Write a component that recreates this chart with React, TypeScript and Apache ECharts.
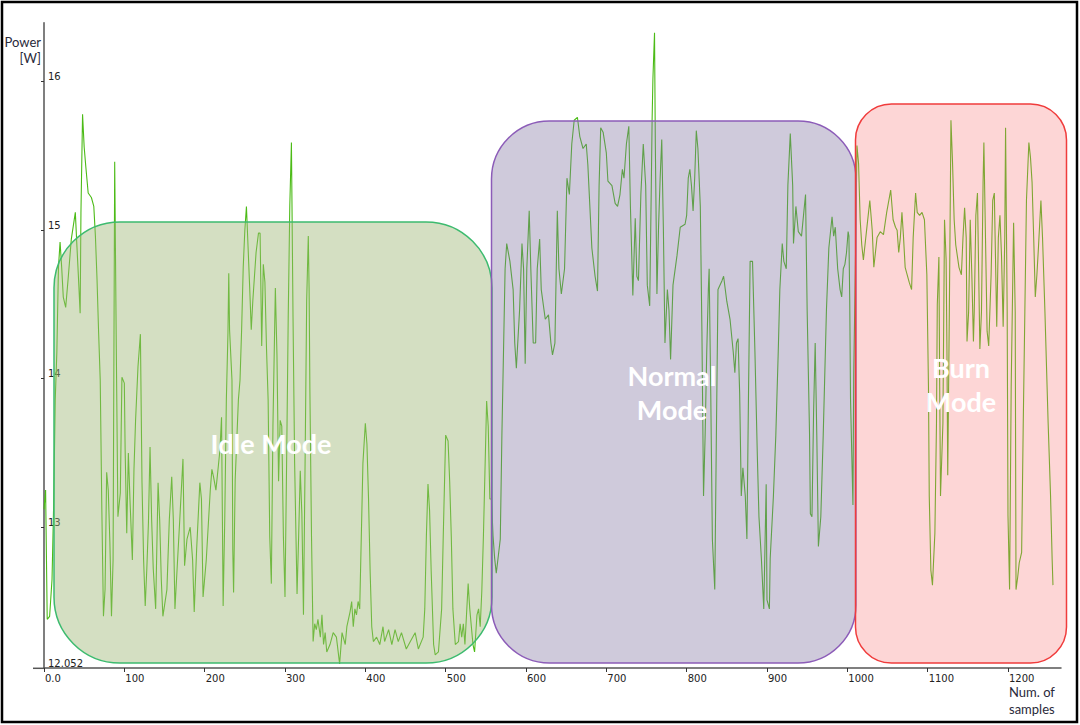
import React, { useEffect, useRef } from "react";
import * as echarts from "echarts";

// [sample index, power in W]
const idleSamples: [number, number][] = [
  [0,13.12],[2,13.25],[4,12.38],[7,12.40],[10,12.65],[12,13.15],[14,13.86],[16,14.18],[18,14.75],[20,14.92],
  [22,14.75],[24,14.55],[27,14.48],[30,14.67],[34,14.94],[39,15.12],[41,14.89],[43,14.67],[45,14.44],[46,15.12],
  [48,15.78],[50,15.56],[52,15.43],[55,15.25],[59,15.22],[62,15.16],[64,14.96],[66,14.67],[68,14.31],[70,13.99],
  [72,13.12],[74,12.40],[76,12.58],[78,13.37],[80,13.25],[82,12.90],[84,12.40],[86,12.78],[88,15.46],[90,14.20],
  [92,13.07],[95,13.23],[97,14.01],[100,13.97],[101,13.52],[103,12.96],[105,13.50],[107,13.19],[110,12.78],[112,13.39],
  [114,13.72],[117,14.08],[120,14.30],[122,13.30],[124,12.78],[126,12.47],[128,12.72],[130,13.03],[132,13.54],[134,13.05],
  [136,12.72],[139,12.45],[142,13.30],[144,13.05],[146,12.65],[148,12.40],[153,12.58],[156,13.05],[159,13.34],[161,13.05],
  [163,12.45],[165,12.65],[169,13.05],[173,13.46],[175,12.74],[178,12.92],[182,13.00],[185,12.78],[187,12.43],[190,12.85],
  [194,13.30],[196,13.19],[198,12.53],[202,12.78],[207,13.25],[209,13.39],[211,13.34],[214,13.25],[217,13.41],[219,13.52],
  [221,13.74],[223,12.47],[225,13.05],[227,13.86],[229,14.31],[230,14.71],[231,14.33],[234,13.99],[235,12.85],[236,12.56],
  [238,13.32],[242,13.86],[244,13.99],[246,14.33],[248,14.75],[250,15.00],[252,15.16],[254,14.89],[256,14.62],[258,14.33],
  [260,14.53],[264,14.85],[267,14.98],[269,14.98],[271,14.22],[273,14.77],[275,14.65],[277,14.20],[279,13.86],[281,12.94],
  [283,12.62],[285,13.68],[288,14.61],[290,14.16],[292,13.31],[294,13.72],[296,13.68],[298,12.94],[300,12.53],[302,13.43],
  [304,14.41],[306,15.17],[308,15.59],[310,14.41],[312,13.43],[315,12.55],[317,12.94],[319,13.38],[321,13.09],[323,12.41],
  [325,13.43],[327,14.53],[329,14.96],[330,14.61],[331,13.92],[333,12.94],[335,12.23],[337,12.35],[339,12.31],[341,12.38],
  [344,12.26],[346,12.41],[348,12.21],[350,12.29],[352,12.16],[356,12.21],[360,12.29],[364,12.26],[368,12.08],[371,12.29],
  [375,12.21],[377,12.33],[381,12.43],[383,12.50],[385,12.33],[387,12.45],[389,12.41],[391,12.50],[393,12.45],[395,12.94],
  [397,13.43],[400,13.70],[402,13.56],[404,13.19],[406,12.70],[408,12.33],[410,12.23],[414,12.26],[418,12.21],[422,12.33],
  [424,12.23],[429,12.31],[433,12.21],[437,12.31],[441,12.23],[445,12.29],[451,12.18],[456,12.23],[462,12.29],[466,12.18],
  [472,12.26],[474,12.45],[476,12.94],[478,13.29],[480,13.11],[482,12.70],[485,12.21],[487,12.14],[491,12.16],[495,12.45],
  [497,12.94],[500,13.62],[503,13.58],[505,13.31],[507,12.94],[509,12.45],[512,12.21],[516,12.23],[518,12.35],[520,12.26],
  [522,12.35],[524,12.21],[528,12.62],[530,12.45],[534,12.21],[536,12.16],[539,12.41],[541,12.45],[543,12.33],[545,12.57],
  [547,12.94],[551,13.85],[553,13.68],[555,13.19],[557,13.19],[559,12.94],[561,12.79],[563,12.69]
];

const normalSamples: [number, number][] = [
  [568,12.92],[570,13.62],[572,14.18],[574,14.74],[576,14.91],[580,14.79],[584,14.60],[586,14.24],[588,14.07],[592,14.46],
  [595,14.91],[597,14.74],[599,14.10],[601,14.74],[604,15.13],[606,14.74],[609,14.24],[612,14.24],[614,14.74],[617,14.94],
  [619,14.60],[624,14.40],[628,14.43],[631,14.24],[633,14.16],[636,14.24],[639,15.13],[641,14.74],[644,14.57],[648,14.74],
  [651,15.35],[654,15.24],[657,15.58],[660,15.74],[664,15.76],[667,15.63],[671,15.55],[675,15.58],[677,15.44],[682,14.88],
  [686,14.69],[689,14.59],[691,15.30],[693,15.69],[696,15.66],[700,15.52],[702,15.33],[707,15.30],[711,15.18],[714,15.16],
  [717,15.24],[720,15.41],[722,15.35],[725,15.58],[728,15.70],[730,15.16],[733,14.56],[736,15.08],[738,14.69],[740,14.66],
  [743,15.24],[746,15.58],[749,15.30],[751,14.63],[754,14.49],[756,15.30],[757,15.74],[758,16.02],[760,16.33],[761,15.58],
  [763,14.57],[765,15.02],[767,15.35],[769,15.61],[771,15.02],[773,14.24],[776,14.60],[778,14.46],[780,14.13],[783,14.63],
  [788,14.83],[792,15.02],[798,15.04],[800,15.10],[802,15.35],[804,15.41],[806,15.30],[808,15.13],[810,15.35],[812,15.67],
  [814,15.55],[817,15.16],[819,14.32],[821,13.21],[823,13.62],[825,14.18],[827,14.60],[828,14.74],[830,13.90],[832,12.92],
  [835,12.58],[837,13.62],[839,14.60],[844,14.66],[846,14.69],[850,14.52],[854,14.40],[858,14.18],[860,14.04],[862,14.24],
  [864,14.27],[866,13.90],[868,13.21],[870,13.40],[873,13.21],[875,12.92],[877,13.90],[879,14.79],[882,14.79],[885,14.18],
  [888,13.48],[890,13.07],[893,12.79],[896,12.45],[899,13.29],[900,12.51],[903,12.45],[904,12.79],[908,13.21],[911,13.62],
  [914,14.18],[916,14.60],[919,14.91],[921,14.79],[924,14.74],[926,15.30],[929,15.65],[932,15.30],[933,14.91],[936,15.16],
  [939,14.99],[943,14.96],[946,15.13],[948,15.24],[950,14.46],[953,13.62],[954,13.09],[956,13.07],[958,13.77],[960,14.24],
  [962,13.62],[964,12.87],[967,13.07],[970,13.62],[974,14.46],[977,14.88],[981,15.09],[983,14.96],[985,15.02],[988,14.74],
  [991,14.60],[993,14.55],[995,14.74],[997,14.77],[999,14.85],[1001,14.99],[1002,14.96],[1003,14.53],[1004,13.86],[1007,13.15],
  [1008,14.04]
];

const burnSamples: [number, number][] = [
  [1010,14.74],[1012,15.57],[1014,15.45],[1016,15.07],[1018,14.90],[1020,14.80],[1024,15.00],[1028,15.20],[1031,15.00],[1033,14.75],
  [1037,14.95],[1041,14.99],[1045,14.97],[1049,15.12],[1054,15.27],[1057,15.07],[1060,15.02],[1062,15.00],[1064,14.85],[1066,14.95],
  [1068,15.12],[1070,14.95],[1072,14.75],[1077,14.65],[1080,14.60],[1082,14.95],[1085,15.25],[1087,15.12],[1090,15.10],[1093,15.12],
  [1096,15.07],[1099,14.70],[1101,13.95],[1102,13.21],[1104,12.71],[1106,12.61],[1109,12.96],[1111,13.70],[1112,14.50],[1114,14.82],
  [1115,13.95],[1116,13.21],[1119,13.70],[1121,15.07],[1123,14.80],[1124,14.20],[1125,13.35],[1127,14.45],[1129,15.74],[1131,15.45],
  [1133,15.07],[1135,14.90],[1139,14.75],[1142,14.70],[1144,14.95],[1146,15.15],[1148,14.95],[1149,14.25],[1151,14.45],[1153,15.07],
  [1155,14.70],[1157,14.25],[1158,14.45],[1160,15.10],[1162,15.25],[1165,14.20],[1167,14.45],[1169,15.32],[1170,15.59],[1172,14.95],
  [1174,14.32],[1176,14.22],[1179,14.70],[1181,15.20],[1183,15.25],[1184,14.95],[1186,14.35],[1188,14.95],[1190,15.10],[1192,14.82],
  [1194,14.35],[1196,14.95],[1197,15.69],[1199,14.45],[1200,13.08],[1202,12.58],[1204,13.95],[1207,15.05],[1209,14.45],[1210,12.58],
  [1212,12.66],[1214,12.76],[1217,12.83],[1219,13.70],[1221,14.45],[1223,15.20],[1226,15.59],[1228,15.49],[1230,15.32],[1232,14.95],
  [1234,14.55],[1236,14.70],[1238,14.89],[1241,15.20],[1243,14.95],[1246,14.45],[1250,13.70],[1253,13.21],[1255,12.78],[1256,12.61]
];

const xTickValues = [0, 100, 200, 300, 400, 500, 600, 700, 800, 900, 1000, 1100, 1200];
const yTickValues = [13, 14, 15, 16];
const yLabelValues = [12.052, 13, 14, 15, 16];
const yMin = 12.052;
const yMax = 16.397;
const xMax = 1266;
const modeNames = ["Idle Mode", "Normal\nMode", "Burn\nMode"];

export default function App() {
  const ref = useRef<HTMLDivElement>(null);
  useEffect(() => {
    const chart = echarts.init(ref.current as HTMLDivElement, null, { renderer: "svg" });
    const data = [...idleSamples, ...normalSamples, ...burnSamples];
    const axisColor = "#555";
    const labelFont = "DejaVu Sans";
    const modeFont = "bold 27px Lato";
    chart.setOption({
      animation: false,
      backgroundColor: "#ffffff",
      grid: { left: 44, right: 19, top: 22.7, bottom: 57, containLabel: false },
      xAxis: {
        type: "value",
        min: 0,
        max: xMax,
        axisLine: { show: true, lineStyle: { color: axisColor, width: 1.5 } },
        axisTick: { show: true, length: 4, customValues: xTickValues, lineStyle: { color: "#333" } },
        axisLabel: {
          customValues: xTickValues,
          align: "left",
          margin: 5,
          fontSize: 10,
          fontFamily: labelFont,
          color: "#222",
          padding: [0, 0, 0, 1],
          formatter: (v: number) => (v === 0 ? "0.0" : String(v)),
        },
        splitLine: { show: false },
      },
      yAxis: {
        type: "value",
        min: yMin,
        max: yMax,
        axisLine: { show: true, lineStyle: { color: axisColor, width: 1.5 } },
        axisTick: { show: true, length: 3, customValues: yTickValues, lineStyle: { color: "#333" } },
        axisLabel: {
          customValues: yLabelValues,
          inside: true,
          margin: 4,
          verticalAlign: "bottom",
          fontSize: 10,
          fontFamily: labelFont,
          color: "#222",
          formatter: (v: number) => (Math.abs(v - yMin) < 1e-6 ? "12.052" : String(Math.round(v))),
        },
        splitLine: { show: false },
      },
      series: [
        {
          type: "line",
          data,
          symbol: "none",
          showSymbol: false,
          lineStyle: { color: "#4cbb17", width: 1.1 },
          z: 2,
        },
      ],
      graphic: [
        {
          type: "rect", z: 10,
          shape: { x: 54, y: 222, width: 438, height: 441, r: 66 },
          style: { fill: "rgba(160,185,120,0.45)", stroke: "#3dbb6f", lineWidth: 1.5 },
        },
        {
          type: "rect", z: 11,
          shape: { x: 491.5, y: 121, width: 364.5, height: 542, r: 58 },
          style: { fill: "rgba(130,115,160,0.38)", stroke: "#8c5cb8", lineWidth: 1.5 },
        },
        {
          type: "rect", z: 12,
          shape: { x: 855.5, y: 104, width: 211, height: 559, r: 36 },
          style: { fill: "rgba(250,120,120,0.3)", stroke: "#f03c3c", lineWidth: 1.5 },
        },
        {
          type: "text", z: 30, x: 271, y: 443,
          style: { text: modeNames[0], fill: "#ffffff", font: modeFont, textAlign: "center", align: "center", textVerticalAlign: "middle", verticalAlign: "middle" },
        },
        {
          type: "text", z: 30, x: 672, y: 392,
          style: { text: modeNames[1], fill: "#ffffff", font: modeFont, lineHeight: 34, textAlign: "center", align: "center", textVerticalAlign: "middle", verticalAlign: "middle" },
        },
        {
          type: "text", z: 30, x: 961, y: 384,
          style: { text: modeNames[2], fill: "#ffffff", font: modeFont, lineHeight: 34, textAlign: "center", align: "center", textVerticalAlign: "middle", verticalAlign: "middle" },
        },
        {
          type: "text", z: 30, x: 41, y: 50,
          style: { text: "Power\n[W]", fill: "#2a2a3a", font: "13px Lato", lineHeight: 16, textAlign: "right", align: "right", textVerticalAlign: "middle", verticalAlign: "middle" },
        },
        {
          type: "text", z: 30, x: 1009, y: 700,
          style: { text: "Num. of\nsamples", fill: "#2a2a3a", font: "13px Lato", lineHeight: 17, textAlign: "left", align: "left", textVerticalAlign: "middle", verticalAlign: "middle" },
        },
        {
          type: "line", z: 5,
          shape: { x1: 33, y1: 668.3, x2: 44, y2: 668.3 },
          style: { stroke: axisColor, lineWidth: 1.5 },
        },
        {
          type: "rect", z: 40,
          shape: { x: 2, y: 2, width: 1075, height: 720 },
          style: { fill: "none", stroke: "#000000", lineWidth: 2.5 },
        },
      ],
    });
    return () => chart.dispose();
  }, []);
  return (
    <div
      ref={ref}
      style={{ position: "absolute", left: 0, top: 0, width: 1080, height: 725, background: "#fff" }}
    />
  );
}
